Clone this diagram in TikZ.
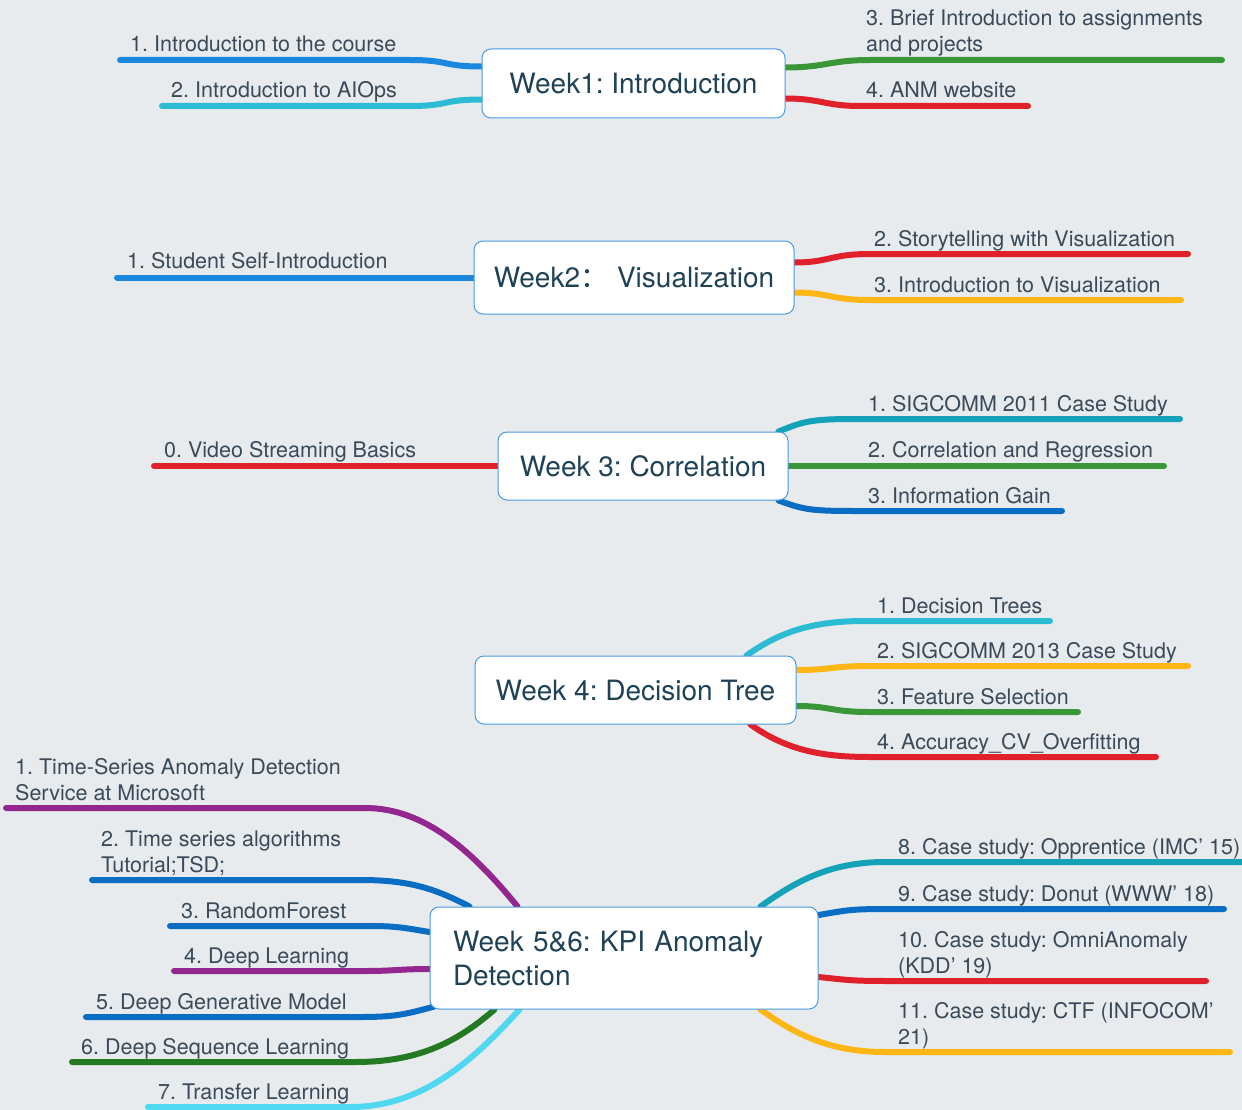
\documentclass[tikz,border=0pt]{standalone}
\usepackage{fontspec}
\setmainfont{TeX Gyre Heros}
\newfontfamily\cjkfont{Noto Sans CJK SC}
\usetikzlibrary{calc}
\definecolor{bgc}{HTML}{E8EBEE}
\definecolor{boxc}{HTML}{4A9BE0}
\definecolor{titlec}{HTML}{1F4257}
\definecolor{lblc}{HTML}{3A4A58}
\definecolor{cblue}{HTML}{1B88E0}
\definecolor{ccyan}{HTML}{2BBBD3}
\definecolor{cgreen}{HTML}{3A9639}
\definecolor{cred}{HTML}{E0202A}
\definecolor{cyellow}{HTML}{FDB614}
\definecolor{cteal}{HTML}{13A2B8}
\definecolor{cdblue}{HTML}{0A6DC4}
\definecolor{cpurple}{HTML}{93278F}
\definecolor{cdgreen}{HTML}{237A22}
\definecolor{clcyan}{HTML}{4FD8EF}
\pgfdeclarelayer{bglayer}
\pgfdeclarelayer{linelayer}
\pgfsetlayers{bglayer,linelayer,main}
\frenchspacing
\begin{document}
\begin{tikzpicture}[x=1pt,y=-1pt,
  wk/.style={draw=boxc, line width=1pt, fill=white, rounded corners=9pt,
    font=\fontsize{28}{34}\selectfont\frenchspacing, text=titlec, inner sep=0pt},
  lbl/.style={font=\fontsize{21.5}{26}\selectfont\frenchspacing, text=lblc, inner sep=0pt, align=left, anchor=base west},
  br/.style={line width=6pt, line cap=round, line join=round}]
\useasboundingbox (0,0) rectangle (1242,1110);
\begin{pgfonlayer}{bglayer}
\fill[bgc] (0,0) rectangle (1242,1110);
\end{pgfonlayer}

% ---------- boxes ----------
\node[wk, minimum width=303pt, minimum height=69pt] (w1) at (633.5,83.5) {Week1: Introduction};
\node[wk, minimum width=320pt, minimum height=73pt] (w2) at (634,277.5) {Week2{\cjkfont ：}\hspace{9pt}Visualization};
\node[wk, minimum width=290pt, minimum height=68pt] (w3) at (643,466) {Week 3: Correlation};
\node[wk, minimum width=321pt, minimum height=68pt] (w4) at (635.5,690) {Week 4: Decision Tree};
\node[wk, minimum width=388pt, minimum height=102pt, text width=342pt, align=left] (w5) at (624,958) {Week 5\&6: KPI Anomaly\\Detection};

% ---------- labels (base = baseline of last line) ----------
\node[lbl] (t11) at (130,52) {1. Introduction to the course};
\node[lbl] (t12) at (171,98) {2. Introduction to AIOps};
\node[lbl] (t13) at (866,52) {3. Brief Introduction to assignments\\and projects};
\node[lbl] (t14) at (866,98) {4. ANM website};

\node[lbl] (t21) at (127,269) {1. Student Self-Introduction};
\node[lbl] (t22) at (874,246) {2. Storytelling with Visualization};
\node[lbl] (t23) at (874,292) {3. Introduction to Visualization};

\node[lbl] (t30) at (164,457) {0. Video Streaming Basics};
\node[lbl] (t31) at (868,411) {1. SIGCOMM 2011 Case Study};
\node[lbl] (t32) at (868,457) {2. Correlation and Regression};
\node[lbl] (t33) at (868,503) {3. Information Gain};

\node[lbl] (t41) at (877,613) {1. Decision Trees};
\node[lbl] (t42) at (877,658) {2. SIGCOMM 2013 Case Study};
\node[lbl] (t43) at (877,704) {3. Feature Selection};
\node[lbl] (t44) at (877,749) {4. Accuracy\_CV\_Overfitting};

\node[lbl] (t51) at (15,800) {1. Time-Series Anomaly Detection\\Service at Microsoft};
\node[lbl] (t52) at (101,872) {2. Time series algorithms\\Tutorial;TSD;};
\node[lbl] (t53) at (181,918) {3. RandomForest};
\node[lbl] (t54) at (184,963) {4. Deep Learning};
\node[lbl] (t55) at (96,1009) {5. Deep Generative Model};
\node[lbl] (t56) at (81,1054) {6. Deep Sequence Learning};
\node[lbl] (t57) at (158,1099) {7. Transfer Learning};
\node[lbl] (t58) at (898,854) {8. Case study: Opprentice (IMC’ 15)};
\node[lbl] (t59) at (898,901) {9. Case study: Donut (WWW’ 18)};
\node[lbl] (t510) at (898,973) {10. Case study: OmniAnomaly\\(KDD’ 19)};
\node[lbl] (t511) at (898,1044) {11. Case study: CTF (INFOCOM’\\21)};

% ---------- line ends ----------
\coordinate (e11) at (120,60);   \coordinate (k11) at (410,60);
\coordinate (e12) at (162,106);  \coordinate (k12) at (410,106);
\coordinate (e13) at (1222,60);  \coordinate (k13) at (870,60);
\coordinate (e14) at (1028,106); \coordinate (k14) at (860,106);
\coordinate (e21) at (117,277.5);
\coordinate (e22) at (1188,254); \coordinate (k22) at (870,254);
\coordinate (e23) at (1181,300); \coordinate (k23) at (870,300);
\coordinate (e30) at (154,466);
\coordinate (e31) at (1180,419); \coordinate (k31) at (855,419);
\coordinate (e32) at (1164,466);
\coordinate (e33) at (1062,511); \coordinate (k33) at (855,511);
\coordinate (e41) at (1050,621); \coordinate (k41) at (865,621);
\coordinate (e42) at (1188,666); \coordinate (k42) at (870,666);
\coordinate (e43) at (1078,712); \coordinate (k43) at (870,712);
\coordinate (e44) at (1156,757); \coordinate (k44) at (870,757);
\coordinate (e51) at (6,808);    \coordinate (k51) at (365,808);
\coordinate (e52) at (92,880);   \coordinate (k52) at (360,880);
\coordinate (e53) at (170,926);  \coordinate (k53) at (365,926);
\coordinate (e54) at (174,971);  \coordinate (k54) at (365,971);
\coordinate (e55) at (86,1017);  \coordinate (k55) at (360,1017);
\coordinate (e56) at (72,1062);  \coordinate (k56) at (355,1062);
\coordinate (e57) at (148,1107); \coordinate (k57) at (350,1107);
\coordinate (e58) at (1245,862); \coordinate (k58) at (885,862);
\coordinate (e59) at (1224,909); \coordinate (k59) at (890,909);
\coordinate (e510) at (1206,981); \coordinate (k510) at (890,981);
\coordinate (e511) at (1230,1052); \coordinate (k511) at (885,1052);

% ---------- connectors ----------
\begin{pgfonlayer}{linelayer}
\draw[br,cblue]  ($(w1.west)+(0,-17)$) .. controls +(-40,0) and +(40,0) .. (k11) -- (e11);
\draw[br,ccyan]  ($(w1.west)+(0,16)$) .. controls +(-40,0) and +(40,0) .. (k12) -- (e12);
\draw[br,cgreen] ($(w1.east)+(0,-16)$) .. controls +(40,0) and +(-40,0) .. (k13) -- (e13);
\draw[br,cred]   ($(w1.east)+(0,15)$) .. controls +(35,0) and +(-35,0) .. (k14) -- (e14);

\draw[br,cblue]   (w2.west) -- (e21);
\draw[br,cred]    ($(w2.east)+(0,-15)$) .. controls +(35,0) and +(-40,0) .. (k22) -- (e22);
\draw[br,cyellow] ($(w2.east)+(0,15)$) .. controls +(35,0) and +(-40,0) .. (k23) -- (e23);

\draw[br,cred]   (w3.west) -- (e30);
\draw[br,cteal]  ($(w3.north east)+(-10,0)$) .. controls +(25,-10) and +(-45,0) .. (k31) -- (e31);
\draw[br,cgreen] (w3.east) -- (e32);
\draw[br,cdblue] ($(w3.south east)+(-10,0)$) .. controls +(25,9) and +(-45,0) .. (k33) -- (e33);

\draw[br,ccyan]   ($(w4.north east)+(-50,0)$) .. controls +(35,-25) and +(-50,0) .. (k41) -- (e41);
\draw[br,cyellow] ($(w4.east)+(0,-20)$) .. controls +(35,0) and +(-40,0) .. (k42) -- (e42);
\draw[br,cgreen]  ($(w4.east)+(0,16)$) .. controls +(35,0) and +(-40,0) .. (k43) -- (e43);
\draw[br,cred]    ($(w4.south east)+(-46,0)$) .. controls +(35,25) and +(-50,0) .. (k44) -- (e44);

\draw[br,cpurple] ($(w5.north west)+(88,0)$) .. controls +(-45,-55) and +(60,0) .. (k51) -- (e51);
\draw[br,cdblue]  ($(w5.north west)+(40,0)$) .. controls +(-35,-18) and +(50,0) .. (k52) -- (e52);
\draw[br,cdblue]  ($(w5.west)+(0,-26)$) .. controls +(-30,-5) and +(30,0) .. (k53) -- (e53);
\draw[br,cpurple] ($(w5.west)+(0,11)$) .. controls +(-30,0) and +(30,0) .. (k54) -- (e54);
\draw[br,cdblue]  ($(w5.south west)+(5,-3)$) .. controls +(-30,8) and +(35,0) .. (k55) -- (e55);
\draw[br,cdgreen] ($(w5.south west)+(65,0)$) .. controls +(-40,35) and +(60,0) .. (k56) -- (e56);
\draw[br,clcyan]  ($(w5.south west)+(90,0)$) .. controls +(-50,55) and +(70,0) .. (k57) -- (e57);
\draw[br,cteal]   ($(w5.north east)+(-58,0)$) .. controls +(35,-25) and +(-55,0) .. (k58) -- (e58);
\draw[br,cdblue]  ($(w5.east)+(0,-43)$) .. controls +(30,-5) and +(-40,0) .. (k59) -- (e59);
\draw[br,cred]    ($(w5.east)+(0,19)$) .. controls +(30,3) and +(-40,0) .. (k510) -- (e510);
\draw[br,cyellow] ($(w5.south east)+(-58,0)$) .. controls +(35,25) and +(-55,0) .. (k511) -- (e511);
\end{pgfonlayer}
\end{tikzpicture}
\end{document}
